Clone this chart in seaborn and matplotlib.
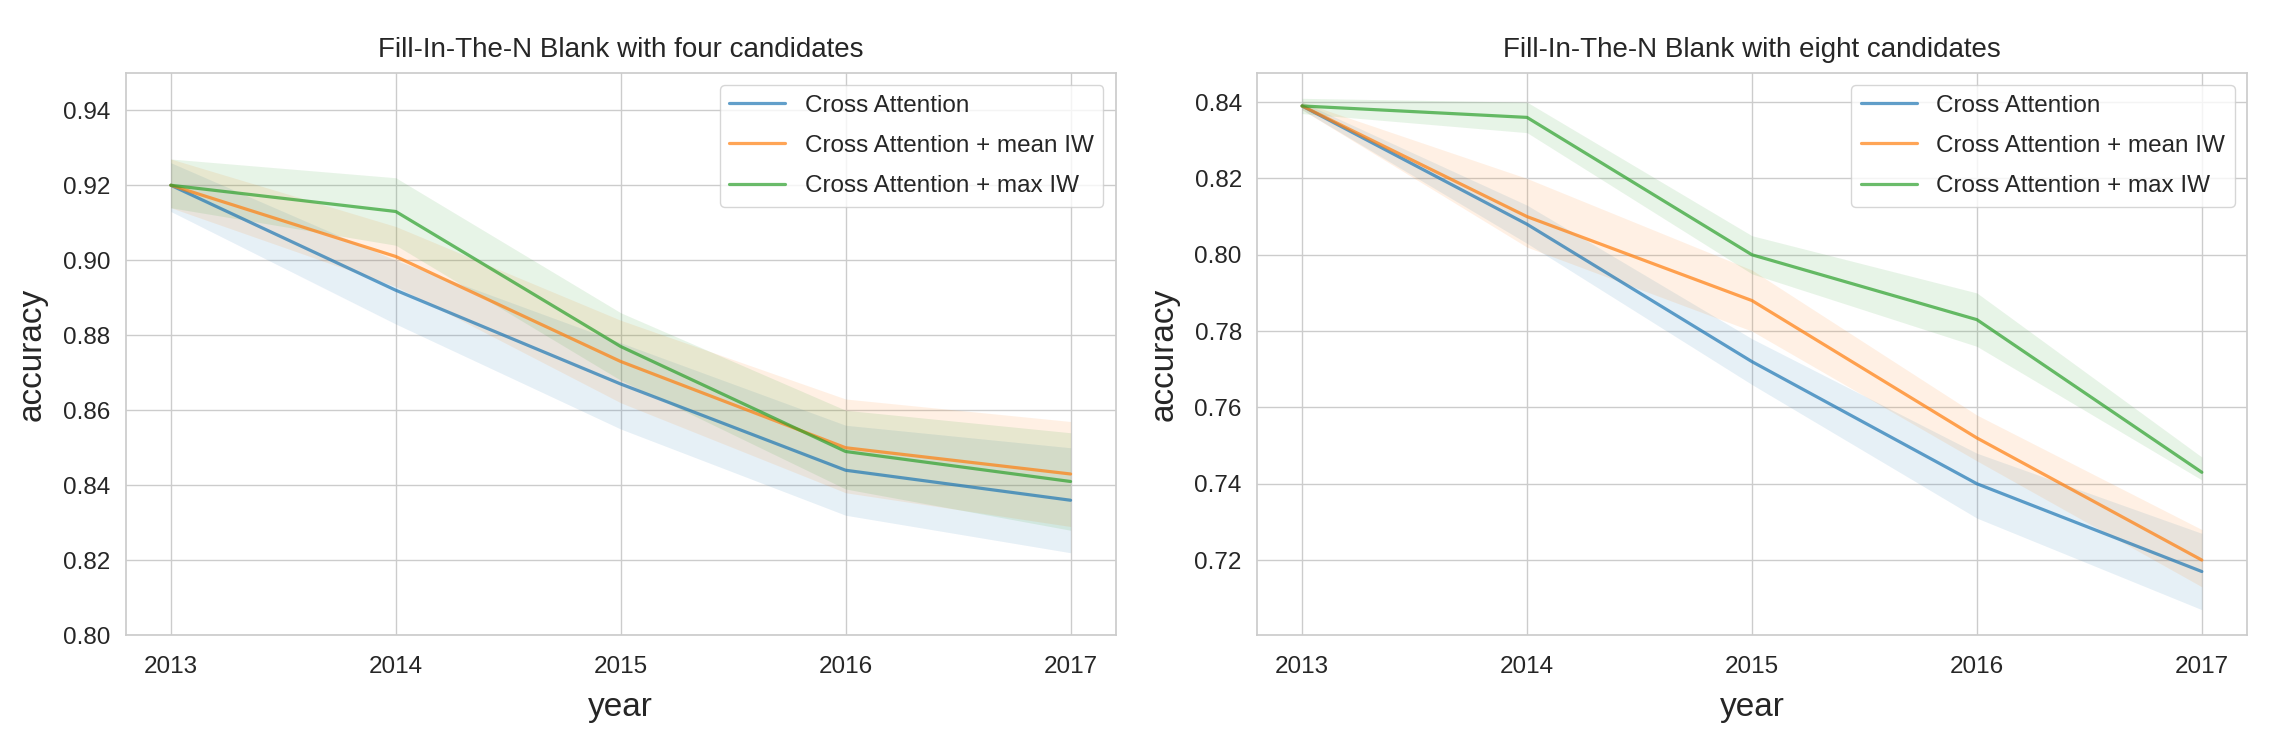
import numpy as np
import pandas as pd
import matplotlib
matplotlib.use("Agg")
import matplotlib.pyplot as plt
import seaborn as sns

years = [2013, 2014, 2015, 2016, 2017]
models = ["Cross Attention", "Cross Attention + mean IW", "Cross Attention + max IW"]

# Panel 1: four candidates (mean, lower, upper of band)
four_mean = {
    "Cross Attention": [0.920, 0.892, 0.867, 0.844, 0.836],
    "Cross Attention + mean IW": [0.920, 0.901, 0.873, 0.850, 0.843],
    "Cross Attention + max IW": [0.920, 0.913, 0.877, 0.849, 0.841],
}
four_lo = {
    "Cross Attention": [0.913, 0.883, 0.855, 0.832, 0.822],
    "Cross Attention + mean IW": [0.914, 0.893, 0.862, 0.838, 0.829],
    "Cross Attention + max IW": [0.914, 0.904, 0.868, 0.839, 0.828],
}
four_hi = {
    "Cross Attention": [0.926, 0.900, 0.878, 0.856, 0.850],
    "Cross Attention + mean IW": [0.927, 0.909, 0.884, 0.863, 0.857],
    "Cross Attention + max IW": [0.927, 0.922, 0.886, 0.860, 0.854],
}

# Panel 2: eight candidates
eight_mean = {
    "Cross Attention": [0.839, 0.808, 0.772, 0.740, 0.717],
    "Cross Attention + mean IW": [0.839, 0.810, 0.788, 0.752, 0.720],
    "Cross Attention + max IW": [0.839, 0.836, 0.800, 0.783, 0.743],
}
eight_lo = {
    "Cross Attention": [0.838, 0.803, 0.766, 0.731, 0.707],
    "Cross Attention + mean IW": [0.838, 0.802, 0.780, 0.746, 0.713],
    "Cross Attention + max IW": [0.837, 0.832, 0.795, 0.776, 0.741],
}
eight_hi = {
    "Cross Attention": [0.840, 0.813, 0.778, 0.748, 0.727],
    "Cross Attention + mean IW": [0.840, 0.820, 0.796, 0.758, 0.728],
    "Cross Attention + max IW": [0.841, 0.840, 0.805, 0.790, 0.747],
}

titles = ["Fill-In-The-N Blank with four candidates",
          "Fill-In-The-N Blank with eight candidates"]


def build(mean, lo, hi):
    rows = []
    for m in models:
        for i, y in enumerate(years):
            for v in (lo[m][i], mean[m][i], hi[m][i]):
                rows.append({"year": y, "model": m, "accuracy": v})
    return pd.DataFrame(rows)


sns.set_theme(style="whitegrid")
plt.rcParams["font.family"] = ["Liberation Sans", "DejaVu Sans"]

fig, axes = plt.subplots(1, 2, figsize=(22.88, 7.5), dpi=100)
fig.subplots_adjust(left=0.055, right=0.982, top=0.903, bottom=0.153, wspace=0.143)

palette = sns.color_palette("tab10", 3)
datasets = [build(four_mean, four_lo, four_hi), build(eight_mean, eight_lo, eight_hi)]

for ax, df, title in zip(axes, datasets, titles):
    sns.lineplot(data=df, x="year", y="accuracy", hue="model", hue_order=models,
                 palette=palette, estimator="median", errorbar=("pi", 100),
                 linewidth=2.3, alpha=0.7,
                 err_kws={"alpha": 0.11, "linewidth": 0}, ax=ax)
    ax.set_xticks(years)
    ax.set_xticklabels([str(y) for y in years])
    ax.set_title(title, fontsize=20, color="#262626", pad=11)
    ax.set_xlabel("year", fontsize=24, color="#262626", labelpad=10)
    ax.set_ylabel("accuracy", fontsize=24, color="#262626", labelpad=11)
    ax.tick_params(axis="x", labelsize=17.5, colors="#262626", pad=9)
    ax.tick_params(axis="y", labelsize=17.5, colors="#262626", pad=5)
    handles, labels = ax.get_legend_handles_labels()
    ax.legend(handles, labels, loc="upper right", fontsize=17.5, frameon=True,
              labelspacing=0.75, handlelength=2.3)

axes[0].set_ylim(0.80, 0.95)
axes[0].set_yticks([0.80, 0.82, 0.84, 0.86, 0.88, 0.90, 0.92, 0.94])
axes[0].set_yticklabels(["0.80", "0.82", "0.84", "0.86", "0.88", "0.90", "0.92", "0.94"])
axes[1].set_yticks([0.72, 0.74, 0.76, 0.78, 0.80, 0.82, 0.84])
axes[1].set_yticklabels(["0.72", "0.74", "0.76", "0.78", "0.80", "0.82", "0.84"])

fig.savefig("out.png", dpi=100)
